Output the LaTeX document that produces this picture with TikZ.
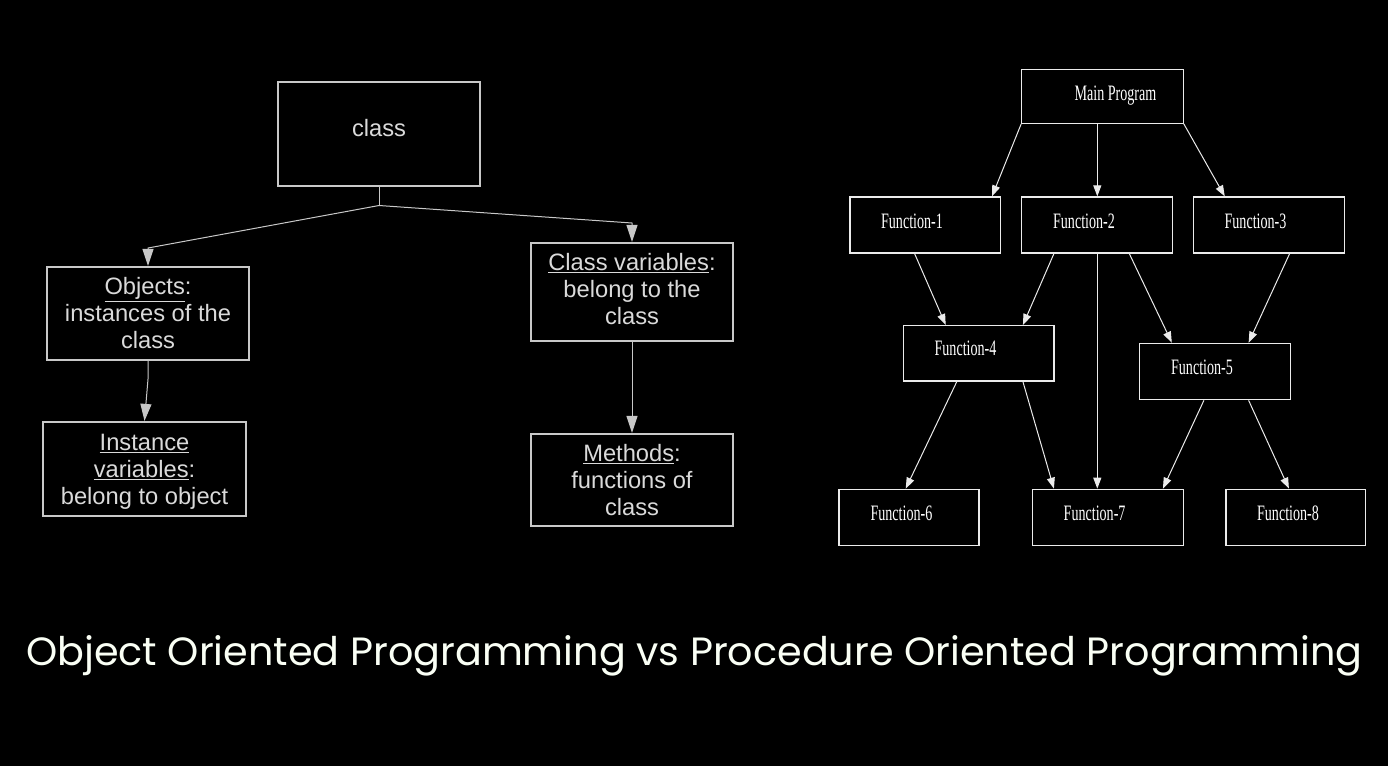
\documentclass[tikz,border=0pt]{standalone}
\usepackage{graphicx}
\usepackage{fontspec}
\setmainfont{Liberation Sans}
\newfontfamily\condserif[FakeStretch=0.64]{Liberation Serif}
\newfontfamily\titlefont{Poppins}
\usetikzlibrary{arrows.meta,calc}
\definecolor{lg}{RGB}{218,218,218}
\definecolor{lb}{RGB}{200,200,200}
\definecolor{titlecol}{RGB}{250,255,245}
\begin{document}
\begin{tikzpicture}[x=1pt,y=-1pt,
  oop/.style={draw=lb,line width=2.2pt,fill=black,inner sep=0pt},
  oopt/.style={text=lg,font=\fontsize{23.7}{27}\selectfont,align=center,inner sep=0pt},
  oline/.style={draw=lb,line width=1pt},
  oarr/.style={oline,-{Triangle[length=17pt,width=11pt,fill=lb]}},
  pop/.style={draw=white!92!black,line width=1.3pt,inner sep=0pt},
  parr/.style={draw=white!92!black,line width=1pt,-{Triangle[length=11pt,width=8pt]}},
  plab/.style={text=white,font=\condserif\fontsize{22}{22}\selectfont,anchor=base,inner sep=0pt}]
\useasboundingbox (0,0) rectangle (1388,766);
\fill[black] (0,0) rectangle (1388,766);

% ---------- OOP ----------
\node[oop,minimum width=202pt,minimum height=104pt,
  label={[oopt,yshift=6pt]center:class}] (class) at (379,134) {};
\node[oop,minimum width=202pt,minimum height=93pt,
  label={[oopt]center:{\underline{Objects}:\\instances of the\\class}}] (obj) at (148,313.5) {};
\node[oop,minimum width=203pt,minimum height=94pt,
  label={[oopt,yshift=-3pt]center:{\underline{Instance}\\\underline{variables}:\\belong to object}}] (inst) at (144.5,469) {};
\node[oop,minimum width=202pt,minimum height=98pt,
  label={[oopt,yshift=3pt]center:{\underline{Class variables}:\\belong to the\\class}}] (cvar) at (632,292) {};
\node[oop,minimum width=202pt,minimum height=92pt,
  label={[oopt]center:{\underline{Methods}:\\functions of\\class}}] (meth) at (632,480) {};

\coordinate (br) at (379,205.5);
\coordinate (ob) at (148,248);
\coordinate (cv) at (632,223);
\draw[oline] (class.south) -- (br);
\draw[oarr] (br) -- (ob) -- (obj.north);
\draw[oarr] (br) -- (cv) -- (cvar.north);
\draw[oarr] (obj.south) -- ++(0,18) -- (inst.north);
\draw[oarr] (cvar.south) -- (meth.north);

% ---------- POP ----------
\node[pop,minimum width=161.4pt,minimum height=54pt] (main) at (1102.5,96.3) {};
\node[pop,minimum width=150.7pt,minimum height=56pt] (f1) at (925.3,225) {};
\node[pop,minimum width=151pt,minimum height=56pt] (f2) at (1097.3,225) {};
\node[pop,minimum width=151pt,minimum height=56pt] (f3) at (1269.1,225) {};
\node[pop,minimum width=150.3pt,minimum height=55.3pt] (f4) at (978.7,353.3) {};
\node[pop,minimum width=151.1pt,minimum height=56.4pt] (f5) at (1215.1,371.5) {};
\node[pop,minimum width=140pt,minimum height=56.4pt] (f6) at (908.9,517.5) {};
\node[pop,minimum width=150.7pt,minimum height=56.4pt] (f7) at (1107.8,517.5) {};
\node[pop,minimum width=139.7pt,minimum height=56.4pt] (f8) at (1295.8,517.5) {};

\node[plab] (tm) at (1115.5,100.7) {Main Program};
\node[plab] (t1) at (912,228.3) {Function-1};
\node[plab] (t2) at (1084,228.3) {Function-2};
\node[plab] (t3) at (1255.5,228.3) {Function-3};
\node[plab] (t4) at (965.5,355.7) {Function-4};
\node[plab] (t5) at (1202,374.3) {Function-5};
\node[plab] (t6) at (901.4,520.7) {Function-6};
\node[plab] (t7) at (1094.6,520.7) {Function-7};
\node[plab] (t8) at (1288,520.7) {Function-8};

\draw[parr] (main.south west) -- ([xshift=-9.3pt]f1.north east);
\draw[parr] (f2.north |- main.south) -- (f2.north);
\draw[parr] (main.south east) -- ([xshift=31.8pt]f3.north west);
\draw[parr] ([xshift=-10.7pt]f1.south) -- ([xshift=-33pt]f4.north);
\draw[parr] ([xshift=-43.4pt]f2.south) -- ([xshift=44.2pt]f4.north);
\draw[parr] (f2.south) -- (f2.south |- f7.north);
\draw[parr] ([xshift=32pt]f2.south) -- ([xshift=-43.3pt]f5.north);
\draw[parr] ([xshift=20.5pt]f3.south) -- ([xshift=33.5pt]f5.north);
\draw[parr] ([xshift=-21.9pt]f4.south) -- ([xshift=-3.2pt]f6.north);
\draw[parr] ([xshift=44.2pt]f4.south) -- ([xshift=-53.9pt]f7.north);
\draw[parr] ([xshift=-11.2pt]f5.south) -- ([xshift=55.1pt]f7.north);
\draw[parr] ([xshift=33.5pt]f5.south) -- ([xshift=-6.9pt]f8.north);

% ---------- Title ----------
\node[text=titlecol,anchor=base west,inner sep=0pt] (title) at (26,665)
  {\resizebox{1336pt}{30pt}{\titlefont Object Oriented Programming vs Procedure Oriented Programming}};
\end{tikzpicture}
\end{document}
